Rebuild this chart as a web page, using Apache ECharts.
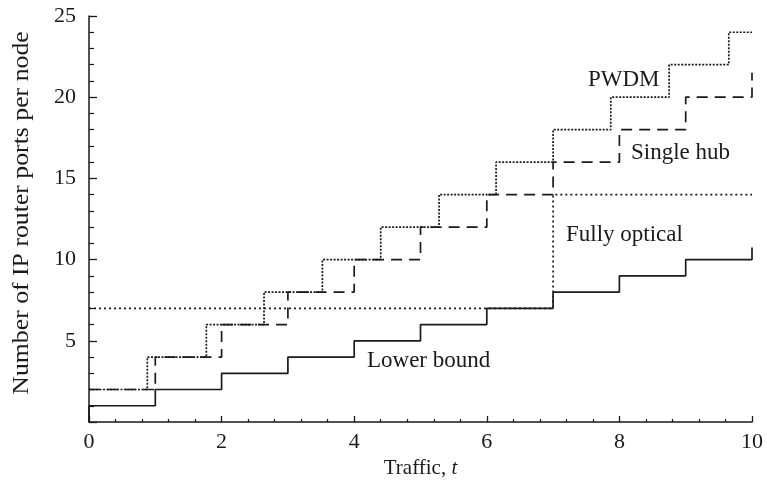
<!DOCTYPE html>
<html>
<head>
<meta charset="utf-8">
<script src="https://cdn.jsdelivr.net/npm/echarts@6/dist/echarts.min.js"></script>
<style>
html,body{margin:0;padding:0;background:#fff;}
#chart{width:767px;height:488px;}
</style>
</head>
<body>
<div id="chart"></div>
<script>
// Data
var lowerX = [0, 0, 1, 2, 3, 4, 5, 6, 7, 8, 9, 10];
var lowerY = [0, 1, 2, 3, 4, 5, 6, 7, 8, 9, 10, 10.75];
var hubX = [0, 1, 2, 3, 4, 5, 6, 7, 8, 9, 10];
var hubY = [2, 4, 6, 8, 10, 12, 14, 16, 18, 20, 21.5];
var pwdmX = [0, 0.88, 1.77, 2.64, 3.52, 4.4, 5.28, 6.14, 7.0, 7.87, 8.75, 9.65, 10];
var pwdmY = [2, 4, 6, 8, 10, 12, 14, 16, 18, 20, 22, 24, 24];
var opticalX = [0, 7, 10];
var opticalY = [7, 14, 14];
var xTicks = [0, 2, 4, 6, 8, 10];
var yTicks = [5, 10, 15, 20, 25];
var labels = {
  pwdm: 'PWDM',
  hub: 'Single hub',
  optical: 'Fully optical',
  lower: 'Lower bound',
  xTitle: 'Traffic, ',
  xTitleVar: 't',
  yTitle: 'Number of IP router ports per node'
};

function pairs(xs, ys) {
  return xs.map(function (x, i) { return [x, ys[i]]; });
}

var FONT = '"Liberation Serif", "DejaVu Serif", serif';
var INK = '#1a1a1a';

var chart = echarts.init(document.getElementById('chart'), null, {renderer: 'canvas'});

var option = {
  backgroundColor: '#ffffff',
  animation: false,
  grid: {left: 89, right: 15, top: 16, bottom: 66, containLabel: false},
  xAxis: {
    type: 'value',
    min: xTicks[0],
    max: xTicks[xTicks.length - 1],
    interval: 2,
    name: labels.xTitle + '{i|' + labels.xTitleVar + '}',
    nameLocation: 'middle',
    nameGap: 34,
    nameTextStyle: {
      fontFamily: FONT, fontSize: 21, color: INK,
      rich: {i: {fontFamily: FONT, fontSize: 21, fontStyle: 'italic', color: INK}}
    },
    axisLine: {show: true, onZero: false, lineStyle: {color: INK, width: 1.5}},
    axisTick: {show: true, inside: true, length: 6, lineStyle: {color: INK, width: 1.3}},
    minorTick: {show: true, splitNumber: 5, length: 3, lineStyle: {color: INK, width: 1.2}},
    axisLabel: {fontFamily: FONT, fontSize: 22, color: INK, margin: 9},
    splitLine: {show: false}
  },
  yAxis: {
    type: 'value',
    min: 0,
    max: yTicks[yTicks.length - 1],
    interval: 5,
    axisLine: {show: true, onZero: false, lineStyle: {color: INK, width: 1.5}},
    axisTick: {show: true, inside: true, length: 8, lineStyle: {color: INK, width: 1.3}},
    minorTick: {show: true, splitNumber: 5, length: 5, lineStyle: {color: INK, width: 1.2}},
    axisLabel: {fontFamily: FONT, fontSize: 22, color: INK, margin: 13, showMinLabel: false},
    splitLine: {show: false}
  },
  graphic: [
    {type: 'text', x: 22, y: 213, rotation: Math.PI / 2, scaleX: 1.12,
      style: {text: labels.yTitle, fontFamily: FONT, fontSize: 23, fill: INK, align: 'center', verticalAlign: 'middle'}},
    {type: 'text', x: 588, y: 80,
      style: {text: labels.pwdm, fontFamily: FONT, fontSize: 23, fill: INK, align: 'left', verticalAlign: 'middle'}},
    {type: 'text', x: 631, y: 153,
      style: {text: labels.hub, fontFamily: FONT, fontSize: 23, fill: INK, align: 'left', verticalAlign: 'middle'}},
    {type: 'text', x: 566, y: 235,
      style: {text: labels.optical, fontFamily: FONT, fontSize: 23, fill: INK, align: 'left', verticalAlign: 'middle'}},
    {type: 'text', x: 367, y: 361,
      style: {text: labels.lower, fontFamily: FONT, fontSize: 23, fill: INK, align: 'left', verticalAlign: 'middle'}}
  ],
  series: [
    {
      name: labels.optical, type: 'line', step: 'end', symbol: 'none',
      data: pairs(opticalX, opticalY),
      lineStyle: {color: INK, width: 1.7, type: [2, 3]}
    },
    {
      name: labels.lower, type: 'line', step: 'end', symbol: 'none',
      data: pairs(lowerX, lowerY),
      lineStyle: {color: INK, width: 1.7, type: 'solid'}
    },
    {
      name: labels.hub, type: 'line', step: 'end', symbol: 'none',
      data: pairs(hubX, hubY),
      lineStyle: {color: INK, width: 1.7, type: [11, 7]}
    },
    {
      name: labels.pwdm, type: 'line', step: 'end', symbol: 'none',
      data: pairs(pwdmX, pwdmY),
      lineStyle: {color: INK, width: 1.7, type: [2, 1.5]}
    }
  ]
};

chart.setOption(option);
</script>
</body>
</html>
